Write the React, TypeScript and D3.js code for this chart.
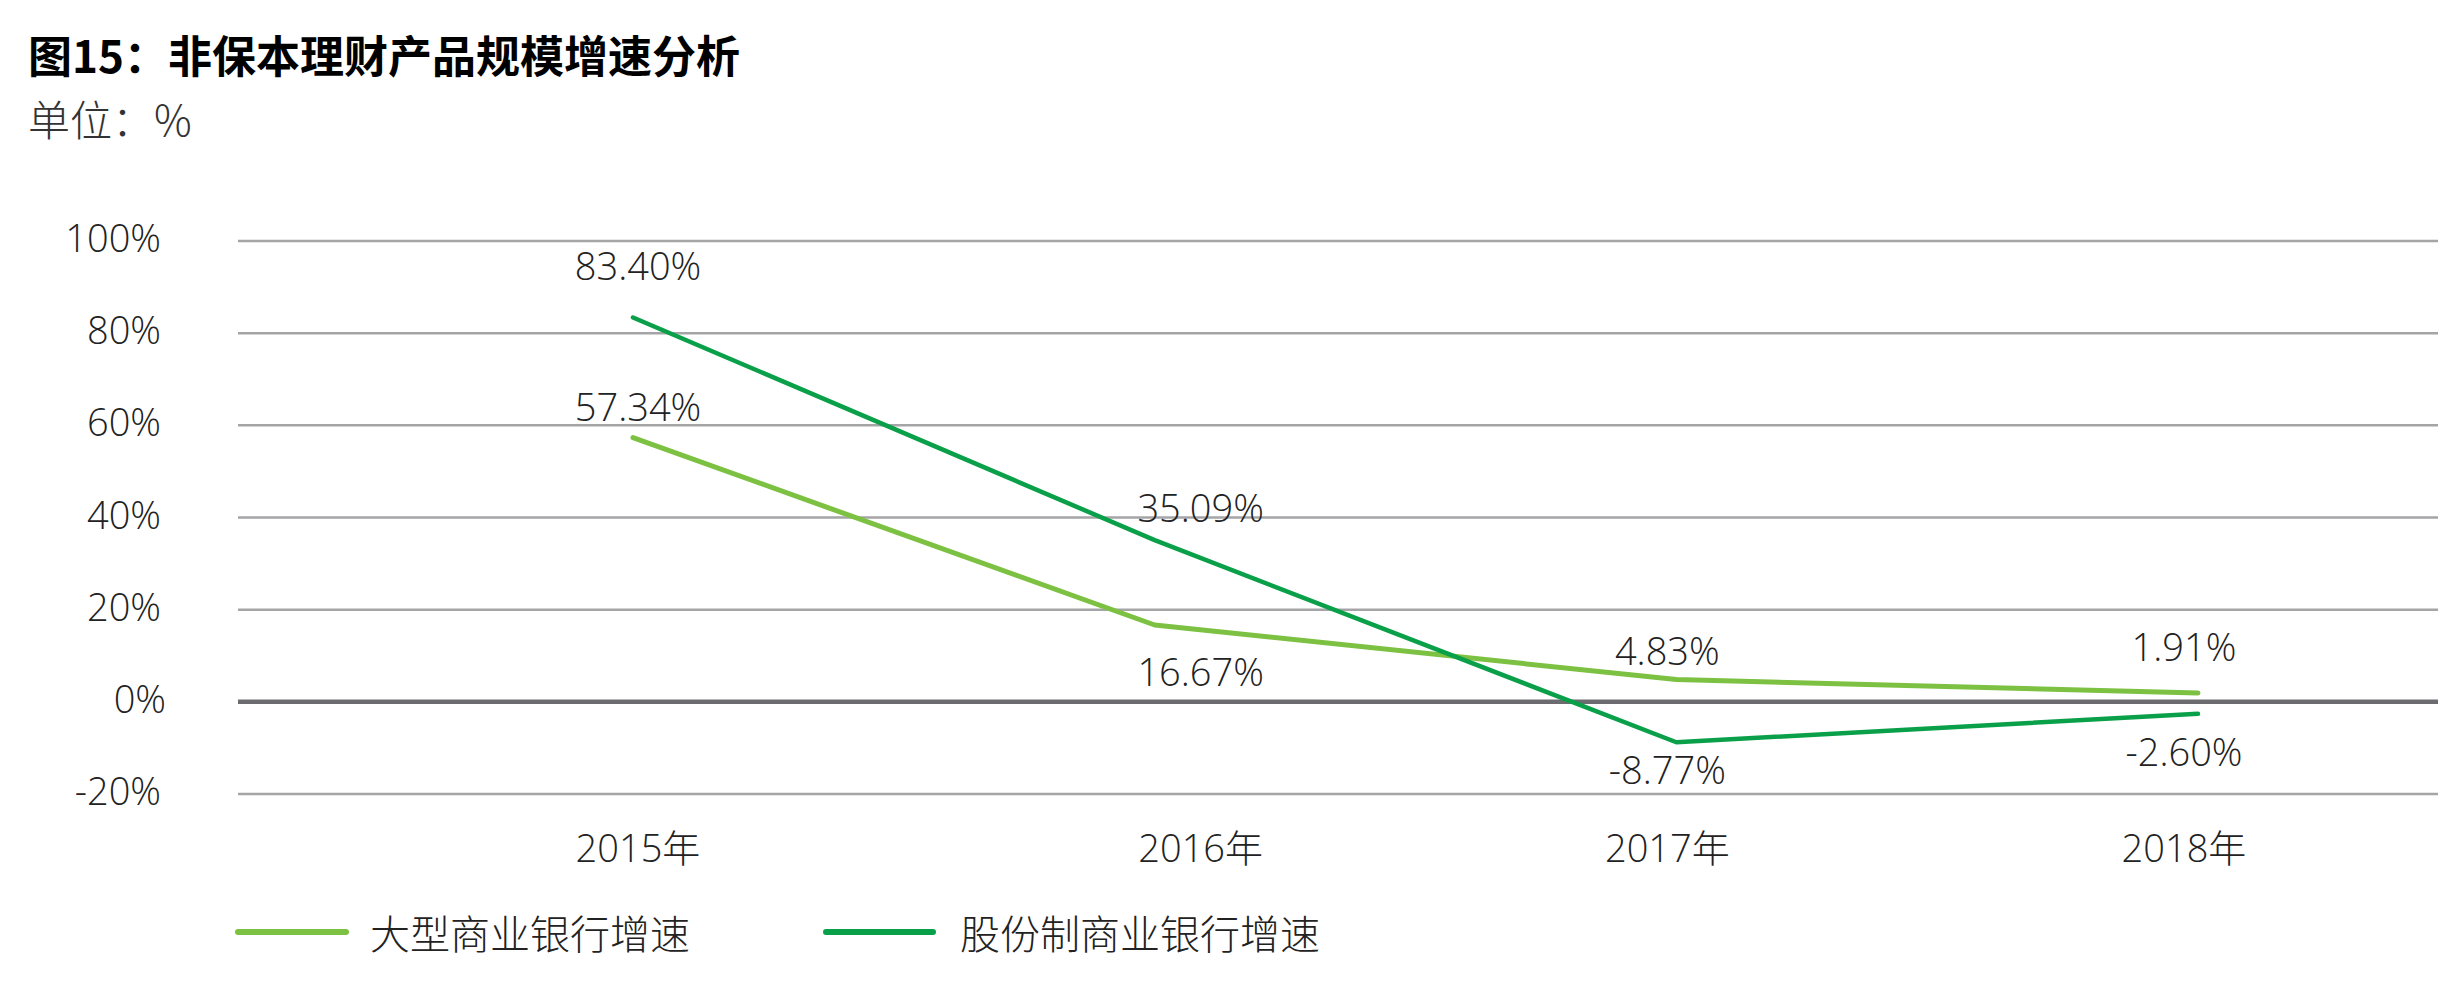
import * as d3 from "d3";

/* ------------------------------------------------------------------ */
/*  Data                                                              */
/* ------------------------------------------------------------------ */

const years = ["2015年", "2016年", "2017年", "2018年"];
const bigBankGrowth = [57.34, 16.67, 4.83, 1.91];
const jointStockGrowth = [83.4, 35.09, -8.77, -2.6];
const yTicks = [-20, 0, 20, 40, 60, 80, 100];
const seriesNames = ["大型商业银行增速", "股份制商业银行增速"];

const TITLE = "图15：非保本理财产品规模增速分析";
const UNIT = "单位：%";

/* ------------------------------------------------------------------ */
/*  Layout                                                            */
/* ------------------------------------------------------------------ */

const W = 2438;
const H = 998;
const plotLeft = 238;
const plotRight = W;
const LIGHT = "#7cc142";
const DARK = "#0aa04a";
const LATIN = "'Open Sans', 'Noto Sans CJK SC', sans-serif";
const CJK = "'Noto Sans CJK SC', 'Open Sans', sans-serif";

// column text sits a bit off the vertex in the original
const colNudge = [5, 46, -9, -14];
// vertical offset of each value label from its point
const bigLabelDy = [-32, 46, -30, -47];
const jointLabelDy = [-52, -33, 27, 37];

export default function App() {
  const x = d3.scalePoint<string>().domain(years).range([633, 2198]);
  const y = d3.scaleLinear().domain([-20, 100]).range([794, 241]);

  const line = d3
    .line<number>()
    .x((_, i) => x(years[i]) ?? 0)
    .y((d) => y(d));

  const series = [
    { name: seriesNames[0], values: bigBankGrowth, color: LIGHT, width: 5, dy: bigLabelDy },
    { name: seriesNames[1], values: jointStockGrowth, color: DARK, width: 4.5, dy: jointLabelDy },
  ];

  const legend = [
    { x1: 238, x2: 346, tx: 370 },
    { x1: 826, x2: 933, tx: 960 },
  ];

  return (
    <div style={{ position: "absolute", left: 0, top: 0 }}>
      <svg width={W} height={H} viewBox={`0 0 ${W} ${H}`} style={{ display: "block", background: "#fff" }}>
        {/* Title */}
        <text x={28} y={54} dominantBaseline="central" fontFamily={CJK} fontWeight={700} fontSize={44} fill="#000">
          {TITLE}
        </text>
        <text x={28} y={117} dominantBaseline="central" fontFamily={CJK} fontWeight={300} fontSize={42} fill="#333">
          {UNIT}
        </text>

        {/* Grid */}
        {yTicks.map((t) => (
          <line
            key={`g-${t}`}
            x1={plotLeft}
            x2={plotRight}
            y1={y(t)}
            y2={y(t)}
            stroke={t === 0 ? "#6c6c70" : "#a5a5a8"}
            strokeWidth={t === 0 ? 4.5 : 2.5}
          />
        ))}

        {/* Y labels */}
        {yTicks.map((t) => (
          <text
            key={`yl-${t}`}
            x={t === 0 ? 166 : 161}
            y={y(t) - 4}
            textAnchor="end"
            dominantBaseline="central"
            fontFamily={LATIN}
            fontWeight={300}
            fontSize={38}
            fill="#222"
          >
            {`${t}%`}
          </text>
        ))}

        {/* X labels */}
        {years.map((yr, i) => (
          <text
            key={yr}
            x={(x(yr) ?? 0) + colNudge[i]}
            y={847}
            textAnchor="middle"
            dominantBaseline="central"
            fontFamily={LATIN}
            fontWeight={300}
            fontSize={38}
            fill="#222"
          >
            {yr}
          </text>
        ))}

        {/* Lines */}
        {series.map((s) => (
          <path
            key={s.name}
            d={line(s.values) ?? ""}
            fill="none"
            stroke={s.color}
            strokeWidth={s.width}
            strokeLinejoin="round"
            strokeLinecap="round"
          />
        ))}

        {/* Value labels */}
        {series.map((s) =>
          s.values.map((v, i) => (
            <text
              key={`${s.name}-${i}`}
              x={(x(years[i]) ?? 0) + colNudge[i]}
              y={y(v) + s.dy[i]}
              textAnchor="middle"
              dominantBaseline="central"
              fontFamily={LATIN}
              fontWeight={300}
              fontSize={38}
              fill="#222"
            >
              {`${v.toFixed(2)}%`}
            </text>
          )),
        )}

        {/* Legend */}
        {series.map((s, i) => (
          <g key={`lg-${s.name}`}>
            <line
              x1={legend[i].x1}
              x2={legend[i].x2}
              y1={932}
              y2={932}
              stroke={s.color}
              strokeWidth={6}
              strokeLinecap="round"
            />
            <text
              x={legend[i].tx}
              y={932}
              dominantBaseline="central"
              fontFamily={CJK}
              fontWeight={300}
              fontSize={40}
              fill="#222"
            >
              {s.name}
            </text>
          </g>
        ))}
      </svg>
    </div>
  );
}
